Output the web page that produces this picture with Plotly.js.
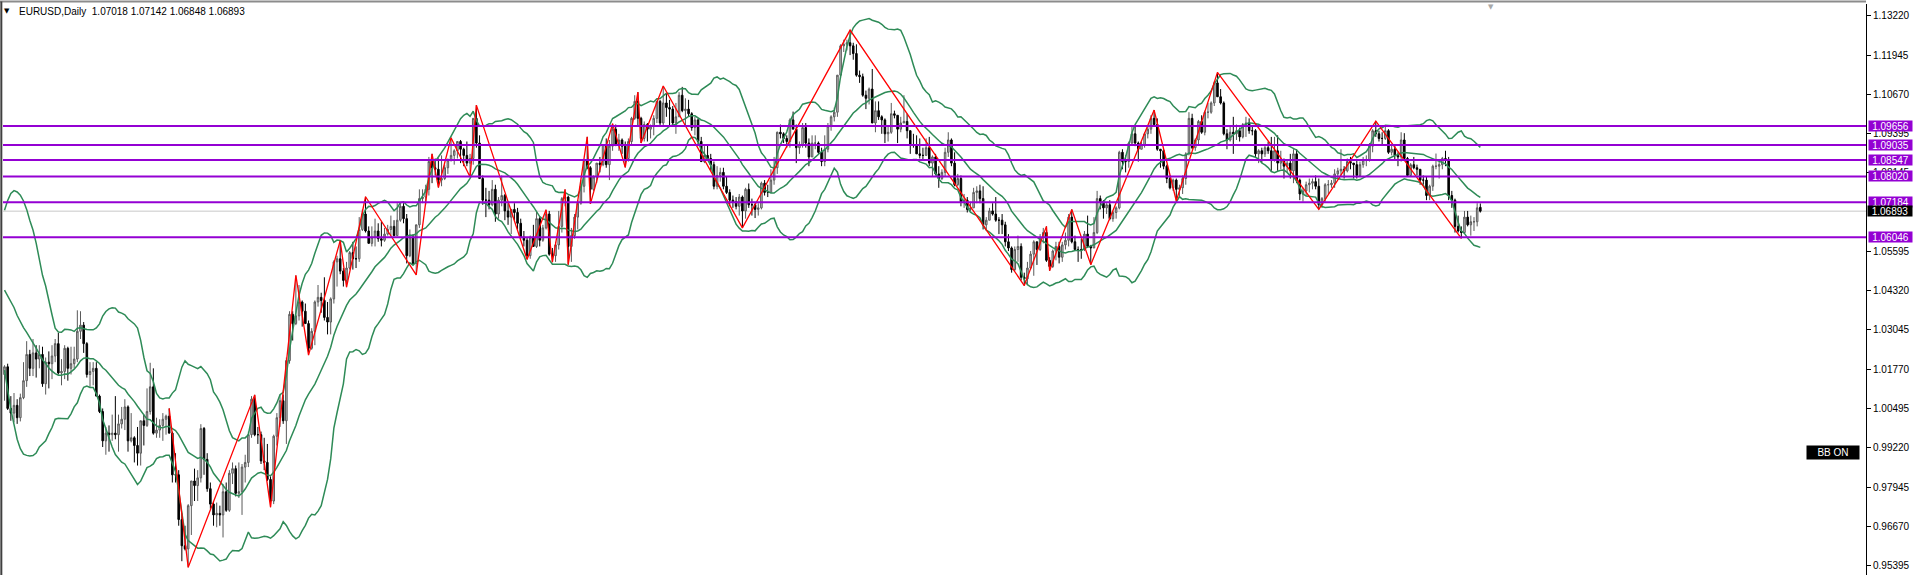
<!DOCTYPE html>
<html>
<head>
<meta charset="utf-8">
<script src="https://cdn.plot.ly/plotly-3.0.1.min.js"></script>
<style>html,body{margin:0;padding:0;background:#fff;}#chart{width:1917px;height:575px;}</style>
</head>
<body>
<div id="chart"></div>
<script>
// ---- EURUSD daily bars (Jul 2022 .. Apr 2024), one entry per bar ----
const opens = [
1.0160,1.0185,1.0050,1.0035,1.0060,1.0020,1.0085,1.0140,1.0225,1.0180,1.0230,1.0210,1.0225,1.0130,1.0200,1.0195,
1.0220,1.0260,1.0165,1.0170,1.0245,1.0180,1.0195,1.0210,1.0300,1.0320,1.0260,1.0160,1.0170,1.0180,1.0090,1.0040,0.9945,0.9970,0.9965,0.9970,0.9965,1.0000,1.0015,
1.0055,0.9945,0.9955,0.9930,0.9905,1.0010,0.9995,1.0040,1.0120,0.9970,0.9980,0.9995,1.0015,1.0025,0.9970,0.9835,0.9835,0.9690,0.9605,0.9595,0.9735,0.9815,
0.9800,0.9825,0.9985,0.9885,0.9790,0.9740,0.9705,0.9710,0.9705,0.9780,0.9720,0.9840,0.9855,0.9775,0.9780,0.9860,0.9875,0.9965,1.0080,0.9965,0.9965,
0.9880,0.9875,0.9820,0.9750,0.9960,1.0020,1.0075,1.0010,1.0205,1.0355,1.0325,1.0350,1.0395,1.0365,1.0325,1.0245,1.0300,1.0395,1.0410,1.0400,1.0345,1.0330,
1.0405,1.0525,1.0535,1.0495,1.0465,1.0505,1.0555,1.0535,1.0535,1.0630,1.0680,1.0625,1.0585,1.0605,1.0625,1.0600,1.0595,1.0615,1.0630,1.0640,1.0610,1.0660,
1.0705,1.0665,1.0545,1.0605,1.0520,1.0645,1.0730,1.0735,1.0760,1.0850,1.0830,1.0825,1.0790,1.0795,1.0830,1.0855,1.0870,1.0885,1.0915,1.0890,1.0870,1.0845,
1.0860,1.0990,1.0910,1.0795,1.0725,1.0725,1.0710,1.0760,1.0680,1.0725,1.0740,1.0690,1.0670,1.0695,1.0685,1.0650,1.0605,1.0595,1.0545,1.0605,
1.0575,1.0665,1.0595,1.0635,1.0680,1.0550,1.0545,1.0580,1.0640,1.0730,1.0735,1.0575,1.0610,1.0670,1.0715,1.0770,1.0855,1.0830,1.0760,1.0800,1.0845,1.0840,1.0905,
1.0840,1.0900,1.0955,1.0905,1.0920,1.0900,1.0860,1.0915,1.0990,1.1045,1.0990,1.0925,1.0970,1.0955,1.0965,1.0990,1.1045,1.0975,1.1040,1.1025,
1.1020,1.0975,1.0995,1.1065,1.1015,1.1020,1.1005,1.0960,1.0985,1.0915,1.0850,1.0870,1.0860,1.0840,1.0770,1.0805,1.0815,1.0770,1.0750,1.0725,1.0720,1.0705,1.0735,
1.0690,1.0760,1.0710,1.0710,1.0695,1.0700,1.0780,1.0750,1.0750,1.0790,1.0830,1.0945,1.0940,1.0925,1.0915,1.0985,1.0955,1.0895,1.0905,1.0960,1.0910,1.0865,
1.0910,1.0910,1.0880,1.0850,1.0890,1.0965,1.0995,1.1010,1.1130,1.1225,1.1230,1.1235,1.1225,1.1200,1.1130,1.1125,1.1065,1.1055,1.1085,1.0975,1.1015,
1.0995,1.0985,1.0940,1.0945,1.1005,1.1000,1.0955,1.0975,1.0980,1.0950,1.0905,1.0905,1.0875,1.0870,1.0870,1.0895,1.0845,1.0865,1.0810,1.0795,1.0815,1.0880,1.0920,
1.0845,1.0775,1.0795,1.0720,1.0725,1.0695,1.0700,1.0750,1.0755,1.0730,1.0645,1.0660,1.0690,1.0680,1.0660,1.0660,1.0645,1.0590,1.0570,1.0500,1.0565,
1.0575,1.0475,1.0470,1.0505,1.0550,1.0590,1.0565,1.0605,1.0620,1.0530,1.0510,1.0560,1.0575,1.0540,1.0580,1.0595,1.0670,1.0590,1.0565,1.0565,1.0565,1.0615,
1.0575,1.0570,1.0620,1.0730,1.0720,1.0700,1.0710,1.0665,1.0685,1.0700,1.0880,1.0850,1.0850,1.0910,1.0940,1.0910,1.0890,1.0905,1.0940,1.0955,1.0990,1.0970,
1.0890,1.0885,1.0835,1.0795,1.0765,1.0790,1.0760,1.0765,1.0795,1.0875,1.0990,1.0895,1.0920,1.0980,1.0945,1.1010,1.1010,1.1040,1.1105,1.1060,
1.1040,1.0940,1.0920,1.0945,1.0940,1.0950,1.0930,1.0970,1.0975,1.0950,1.0950,1.0875,1.0885,1.0875,1.0895,1.0885,1.0855,1.0885,1.0845,1.0855,1.0835,1.0845,
1.0820,1.0875,1.0790,1.0745,1.0755,1.0775,1.0780,1.0785,1.0770,1.0710,1.0730,1.0775,1.0775,1.0780,1.0810,1.0820,1.0825,1.0820,1.0850,1.0845,1.0840,
1.0805,1.0840,1.0855,1.0855,1.0900,1.0950,1.0940,1.0925,1.0925,1.0950,1.0880,1.0890,1.0870,1.0865,1.0920,1.0860,1.0805,1.0840,1.0830,1.0825,1.0790,
1.0790,1.0740,1.0770,1.0835,1.0835,1.0840,1.0860,1.0855,1.0740,1.0725,1.0640,1.0625,1.0620,1.0670,1.0645,1.0655,1.0655,1.07018
];
const highs = [
1.0190,1.0195,1.0090,1.0100,1.0080,1.0098,1.0200,1.0268,1.0240,1.0275,1.0255,1.0255,1.0250,1.0215,1.0235,1.0255,
1.0275,1.0295,1.0210,1.0255,1.0250,1.0250,1.0250,1.0368,1.0365,1.0330,1.0265,1.0200,1.0200,1.0200,1.0095,1.0050,0.9990,0.9995,1.0030,1.0090,1.0030,1.0055,1.0080,
1.0060,1.0035,0.9960,0.9990,1.0010,1.0030,1.0115,1.0198,1.0180,1.0020,1.0015,1.0035,1.0030,1.0050,0.9975,0.9905,0.9850,0.9710,0.9670,0.9740,0.9815,0.9855,
0.9850,0.9999,0.9990,0.9905,0.9810,0.9750,0.9745,0.9735,0.9805,0.9810,0.9850,0.9875,0.9865,0.9875,0.9870,0.9900,0.9975,1.0090,1.0094,0.9990,0.9975,
0.9955,0.9935,0.9830,0.9965,1.0035,1.0095,1.0095,1.0215,1.0365,1.0365,1.0481,1.0450,1.0400,1.0390,1.0335,1.0310,1.0400,1.0450,1.0425,1.0475,1.0395,1.0410,
1.0530,1.0545,1.0594,1.0505,1.0525,1.0560,1.0590,1.0575,1.0670,1.0695,1.0736,1.0640,1.0640,1.0665,1.0650,1.0655,1.0635,1.0645,1.0675,1.0660,1.0715,1.0715,
1.0715,1.0680,1.0630,1.0615,1.0645,1.0760,1.0760,1.0775,1.0865,1.0875,1.0860,1.0860,1.0870,1.0840,1.0860,1.0927,1.0890,1.0915,1.0920,1.0895,1.0915,1.0875,
1.0990,1.1033,1.0935,1.0805,1.0765,1.0755,1.0790,1.0775,1.0735,1.0805,1.0745,1.0715,1.0695,1.0715,1.0700,1.0665,1.0625,1.0605,1.0610,1.0645,
1.0690,1.0670,1.0645,1.0694,1.0690,1.0570,1.0590,1.0690,1.0735,1.0760,1.0740,1.0635,1.0680,1.0725,1.0790,1.0855,1.0930,1.0835,1.0805,1.0845,1.0865,1.0905,1.0925,
1.0920,1.0973,1.0970,1.0940,1.0925,1.0915,1.0925,1.0995,1.1065,1.1075,1.0995,1.0980,1.0975,1.0970,1.1000,1.1045,1.1050,1.1095,1.1070,1.1050,
1.1030,1.1040,1.1075,1.1092,1.1055,1.1050,1.1010,1.0995,1.0990,1.0930,1.0900,1.0905,1.0875,1.0850,1.0835,1.0830,1.0830,1.0800,1.0760,1.0740,1.0735,1.0745,1.0740,
1.0765,1.0779,1.0730,1.0715,1.0715,1.0785,1.0790,1.0775,1.0825,1.0865,1.0947,1.0970,1.0945,1.0935,1.0990,1.1012,1.0970,1.0915,1.0975,1.0975,1.0925,1.0935,
1.0935,1.0915,1.0895,1.0935,1.0975,1.1000,1.1025,1.1130,1.1230,1.1245,1.1245,1.1276,1.1235,1.1230,1.1145,1.1135,1.1080,1.1090,1.1150,1.1045,1.1045,
1.1000,1.0990,1.0965,1.1040,1.1015,1.1000,1.0995,1.1065,1.1005,1.0950,1.0940,1.0935,1.0925,1.0895,1.0925,1.0930,1.0870,1.0875,1.0835,1.0825,1.0895,1.0945,1.0925,
1.0880,1.0810,1.0805,1.0745,1.0735,1.0720,1.0765,1.0770,1.0775,1.0770,1.0670,1.0700,1.0715,1.0735,1.0670,1.0680,1.0655,1.0615,1.0575,1.0575,1.0610,
1.0585,1.0490,1.0525,1.0560,1.0595,1.0590,1.0615,1.0635,1.0640,1.0540,1.0565,1.0590,1.0590,1.0590,1.0620,1.0680,1.0695,1.0610,1.0575,1.0600,1.0625,1.0675,
1.0580,1.0670,1.0755,1.0740,1.0725,1.0715,1.0725,1.0690,1.0705,1.0885,1.0890,1.0870,1.0915,1.0965,1.0965,1.0915,1.0915,1.0945,1.0965,1.1000,1.1017,1.0990,
1.0890,1.0890,1.0840,1.0805,1.0795,1.0795,1.0775,1.0805,1.0880,1.1010,1.1005,1.0925,1.0985,1.1000,1.1015,1.1040,1.1045,1.1110,1.1139,1.1085,
1.1045,1.0955,1.0965,1.0995,1.0970,1.0960,1.0975,1.0995,1.0990,1.0965,1.0955,1.0890,1.0895,1.0905,1.0915,1.0930,1.0930,1.0935,1.0885,1.0860,1.0855,1.0875,
1.0890,1.0890,1.0795,1.0765,1.0785,1.0795,1.0795,1.0805,1.0795,1.0735,1.0780,1.0790,1.0790,1.0825,1.0830,1.0890,1.0835,1.0860,1.0865,1.0845,1.0855,
1.0850,1.0865,1.0870,1.0910,1.0955,1.0981,1.0950,1.0945,1.0965,1.0955,1.0905,1.0905,1.0880,1.0945,1.0942,1.0865,1.0845,1.0865,1.0840,1.0825,1.0805,
1.0800,1.0775,1.0840,1.0876,1.0850,1.0865,1.0885,1.0865,1.0755,1.0730,1.0675,1.0640,1.0690,1.0690,1.0675,1.0670,1.0715,1.07142
];
const lows = [
1.0075,1.0045,1.0010,1.0005,1.0000,1.0008,1.0080,1.0120,1.0155,1.0155,1.0150,1.0180,1.0120,1.0095,1.0115,1.0145,
1.0200,1.0160,1.0125,1.0145,1.0140,1.0160,1.0180,1.0200,1.0275,1.0230,1.0150,1.0120,1.0125,1.0090,1.0035,0.9925,0.9900,0.9910,0.9945,0.9950,0.9910,0.9985,0.9980,
0.9910,0.9940,0.9875,0.9865,0.9865,0.9930,0.9990,1.0030,0.9965,0.9955,0.9955,0.9945,0.9965,0.9970,0.9810,0.9810,0.9670,0.9555,0.9590,0.9535,0.9640,0.9750,
0.9750,0.9810,0.9835,0.9780,0.9725,0.9670,0.9665,0.9670,0.9632,0.9715,0.9715,0.9805,0.9765,0.9760,0.9705,0.9810,0.9860,0.9955,0.9960,0.9935,0.9870,
0.9850,0.9815,0.9730,0.9740,0.9930,0.9990,1.0000,0.9935,1.0195,1.0270,1.0320,1.0335,1.0315,1.0335,1.0223,1.0240,1.0255,1.0380,1.0360,1.0335,1.0290,1.0290,
1.0390,1.0445,1.0485,1.0445,1.0443,1.0500,1.0500,1.0505,1.0525,1.0625,1.0620,1.0585,1.0575,1.0575,1.0590,1.0575,1.0590,1.0610,1.0610,1.0610,1.0610,1.0655,
1.0650,1.0520,1.0540,1.0515,1.0483,1.0635,1.0715,1.0710,1.0740,1.0780,1.0805,1.0766,1.0770,1.0790,1.0810,1.0850,1.0840,1.0860,1.0845,1.0835,1.0835,1.0800,
1.0840,1.0895,1.0795,1.0710,1.0670,1.0695,1.0705,1.0655,1.0665,1.0705,1.0660,1.0645,1.0615,1.0660,1.0630,1.0600,1.0575,1.0533,1.0535,1.0575,
1.0570,1.0575,1.0590,1.0630,1.0545,1.0524,1.0525,1.0565,1.0620,1.0705,1.0516,1.0525,1.0600,1.0630,1.0710,1.0750,1.0825,1.0713,1.0755,1.0780,1.0815,1.0835,1.0830,
1.0790,1.0885,1.0900,1.0885,1.0875,1.0831,1.0850,1.0905,1.0985,1.0965,1.0910,1.0915,1.0915,1.0925,1.0935,1.0975,1.0965,1.0965,1.0995,1.0965,
1.0965,1.0940,1.0995,1.1010,1.0965,1.0995,1.0950,1.0935,1.0900,1.0850,1.0845,1.0855,1.0820,1.0760,1.0760,1.0785,1.0760,1.0745,1.0705,1.0700,1.0695,1.0675,1.0635,
1.0665,1.0700,1.0675,1.0667,1.0675,1.0695,1.0740,1.0735,1.0750,1.0775,1.0810,1.0925,1.0910,1.0895,1.0895,1.0955,1.0845,1.0875,1.0895,1.0895,1.0835,1.0865,
1.0890,1.0875,1.0835,1.0835,1.0880,1.0950,1.0980,1.0995,1.1120,1.1205,1.1210,1.1195,1.1180,1.1125,1.1105,1.1060,1.1020,1.1035,1.0975,1.0945,1.0985,
1.0940,1.0910,1.0915,1.0940,1.0990,1.0910,1.0945,1.0975,1.0925,1.0875,1.0895,1.0875,1.0860,1.0855,1.0870,1.0835,1.0802,1.0805,1.0765,1.0790,1.0800,1.0865,1.0835,
1.0770,1.0770,1.0705,1.0700,1.0685,1.0690,1.0700,1.0715,1.0715,1.0630,1.0630,1.0660,1.0675,1.0655,1.0615,1.0615,1.0575,1.0560,1.0490,1.0495,1.0525,
1.0465,1.0448,1.0450,1.0500,1.0480,1.0515,1.0560,1.0585,1.0525,1.0496,1.0505,1.0530,1.0520,1.0525,1.0565,1.0575,1.0585,1.0560,1.0525,1.0535,1.0560,1.0570,
1.0516,1.0570,1.0615,1.0695,1.0665,1.0680,1.0660,1.0655,1.0665,1.0695,1.0825,1.0815,1.0830,1.0905,1.0900,1.0850,1.0890,1.0895,1.0925,1.0940,1.0965,1.0885,
1.0830,1.0825,1.0780,1.0760,1.0755,1.0723,1.0735,1.0745,1.0775,1.0870,1.0890,1.0885,1.0905,1.0940,1.0935,1.0990,1.1005,1.1030,1.1060,1.1035,
1.0935,1.0890,1.0915,1.0875,1.0920,1.0915,1.0925,1.0930,1.0940,1.0935,1.0865,1.0845,1.0845,1.0865,1.0875,1.0820,1.0850,1.0820,1.0825,1.0795,1.0815,1.0795,
1.0780,1.0780,1.0725,1.0720,1.0740,1.0750,1.0760,1.0760,1.0695,1.0700,1.0720,1.0745,1.0765,1.0765,1.0795,1.0805,1.0795,1.0815,1.0825,1.0795,1.0795,
1.0800,1.0830,1.0835,1.0850,1.0880,1.0930,1.0915,1.0905,1.0920,1.0875,1.0870,1.0855,1.0835,1.0850,1.0855,1.0800,1.0800,1.0825,1.0805,1.0775,1.0775,
1.0725,1.0725,1.0755,1.0825,1.0795,1.0825,1.0835,1.0725,1.0700,1.0620,1.0620,1.0601,1.0615,1.0640,1.0610,1.0625,1.0640,1.06848
];
const closes = [
1.0185,1.0050,1.0035,1.0060,1.0020,1.0085,1.0140,1.0225,1.0180,1.0230,1.0210,1.0225,1.0130,1.0200,1.0195,1.0220,
1.0260,1.0165,1.0170,1.0245,1.0180,1.0195,1.0210,1.0300,1.0320,1.0260,1.0160,1.0170,1.0180,1.0090,1.0040,0.9945,0.9970,0.9965,0.9970,0.9965,1.0000,1.0015,1.0055,
0.9945,0.9955,0.9930,0.9905,1.0010,0.9995,1.0040,1.0120,0.9970,0.9980,0.9995,1.0015,1.0025,0.9970,0.9835,0.9835,0.9690,0.9605,0.9595,0.9735,0.9815,0.9800,
0.9825,0.9985,0.9885,0.9790,0.9740,0.9705,0.9710,0.9705,0.9780,0.9720,0.9840,0.9855,0.9775,0.9780,0.9860,0.9875,0.9965,1.0080,0.9965,0.9965,0.9880,
0.9875,0.9820,0.9750,0.9960,1.0020,1.0075,1.0010,1.0205,1.0355,1.0325,1.0350,1.0395,1.0365,1.0325,1.0245,1.0300,1.0395,1.0410,1.0400,1.0345,1.0330,1.0405,
1.0525,1.0535,1.0495,1.0465,1.0505,1.0555,1.0535,1.0535,1.0630,1.0680,1.0625,1.0585,1.0605,1.0625,1.0600,1.0595,1.0615,1.0630,1.0640,1.0610,1.0660,1.0705,
1.0665,1.0545,1.0605,1.0520,1.0645,1.0730,1.0735,1.0760,1.0850,1.0830,1.0825,1.0790,1.0795,1.0830,1.0855,1.0870,1.0885,1.0915,1.0890,1.0870,1.0845,1.0860,
1.0990,1.0910,1.0795,1.0725,1.0725,1.0710,1.0760,1.0680,1.0725,1.0740,1.0690,1.0670,1.0695,1.0685,1.0650,1.0605,1.0595,1.0545,1.0605,1.0575,
1.0665,1.0595,1.0635,1.0680,1.0550,1.0545,1.0580,1.0640,1.0730,1.0735,1.0575,1.0610,1.0670,1.0715,1.0770,1.0855,1.0830,1.0760,1.0800,1.0845,1.0840,1.0905,1.0840,
1.0900,1.0955,1.0905,1.0920,1.0900,1.0860,1.0915,1.0990,1.1045,1.0990,1.0925,1.0970,1.0955,1.0965,1.0990,1.1045,1.0975,1.1040,1.1025,1.1020,
1.0975,1.0995,1.1065,1.1015,1.1020,1.1005,1.0960,1.0985,1.0915,1.0850,1.0870,1.0860,1.0840,1.0770,1.0805,1.0815,1.0770,1.0750,1.0725,1.0720,1.0705,1.0735,1.0690,
1.0760,1.0710,1.0710,1.0695,1.0700,1.0780,1.0750,1.0750,1.0790,1.0830,1.0945,1.0940,1.0925,1.0915,1.0985,1.0955,1.0895,1.0905,1.0960,1.0910,1.0865,1.0910,
1.0910,1.0880,1.0850,1.0890,1.0965,1.0995,1.1010,1.1130,1.1225,1.1230,1.1235,1.1225,1.1200,1.1130,1.1125,1.1065,1.1055,1.1085,1.0975,1.1015,1.0995,
1.0985,1.0940,1.0945,1.1005,1.1000,1.0955,1.0975,1.0980,1.0950,1.0905,1.0905,1.0875,1.0870,1.0870,1.0895,1.0845,1.0865,1.0810,1.0795,1.0815,1.0880,1.0920,1.0845,
1.0775,1.0795,1.0720,1.0725,1.0695,1.0700,1.0750,1.0755,1.0730,1.0645,1.0660,1.0690,1.0680,1.0660,1.0660,1.0645,1.0590,1.0570,1.0500,1.0565,1.0575,
1.0475,1.0470,1.0505,1.0550,1.0590,1.0565,1.0605,1.0620,1.0530,1.0510,1.0560,1.0575,1.0540,1.0580,1.0595,1.0670,1.0590,1.0565,1.0565,1.0565,1.0615,1.0575,
1.0570,1.0620,1.0730,1.0720,1.0700,1.0710,1.0665,1.0685,1.0700,1.0880,1.0850,1.0850,1.0910,1.0940,1.0910,1.0890,1.0905,1.0940,1.0955,1.0990,1.0970,1.0890,
1.0885,1.0835,1.0795,1.0765,1.0790,1.0760,1.0765,1.0795,1.0875,1.0990,1.0895,1.0920,1.0980,1.0945,1.1010,1.1010,1.1040,1.1105,1.1060,1.1040,
1.0940,1.0920,1.0945,1.0940,1.0950,1.0930,1.0970,1.0975,1.0950,1.0950,1.0875,1.0885,1.0875,1.0895,1.0885,1.0855,1.0885,1.0845,1.0855,1.0835,1.0845,1.0820,
1.0875,1.0790,1.0745,1.0755,1.0775,1.0780,1.0785,1.0770,1.0710,1.0730,1.0775,1.0775,1.0780,1.0810,1.0820,1.0825,1.0820,1.0850,1.0845,1.0840,1.0805,
1.0840,1.0855,1.0855,1.0900,1.0950,1.0940,1.0925,1.0925,1.0950,1.0880,1.0890,1.0870,1.0865,1.0920,1.0860,1.0805,1.0840,1.0830,1.0825,1.0790,1.0790,
1.0740,1.0770,1.0835,1.0835,1.0840,1.0860,1.0855,1.0740,1.0725,1.0640,1.0625,1.0620,1.0670,1.0645,1.0655,1.0655,1.0700,1.06893
];
// closes of the 19 sessions before the first visible bar (needed for the 20-period bands)
const priorCloses = [1.0410,1.0415,1.0445,1.0545,1.0495,1.0510,1.0535,1.0565,1.0520,1.0555,1.0585,1.0520,1.0445,1.0485,1.0425,1.0425,1.0265,1.0180,1.0160];

// ZigZag pivots: bar index and price
const zigzagIdx   = [52,58,79,84,92,96,106,108,114,130,135,137,141,147,149,165,171,173,177,178,184,185,192,196,200,201,208,233,267,322,329,330,337,343,363,370,383,415,433,460];
const zigzagPrice = [1.0050,0.9535,1.0094,0.9730,1.0481,1.0223,1.0594,1.0443,1.0736,1.0483,1.0875,1.0766,1.0927,1.0800,1.1033,1.0533,1.0694,1.0524,1.0760,1.0516,1.0930,1.0713,1.0973,1.0831,1.1075,1.0910,1.1095,1.0635,1.1276,1.0448,1.0640,1.0496,1.0695,1.0516,1.1017,1.0723,1.1139,1.0695,1.0981,1.0601];

// horizontal levels
const levelPrices = [1.09656,1.09035,1.08547,1.08020,1.07184,1.06046];
const bidPrice = 1.06893;

// price scale labels
const tickValues = [1.13220,1.11945,1.10670,1.09395,1.08145,1.05595,1.04320,1.03045,1.01770,1.00495,0.99220,0.97945,0.96670,0.95395];
const tickLabels = ["1.13220","1.11945","1.10670","1.09395","1.08145","1.05595","1.04320","1.03045","1.01770","1.00495","0.99220","0.97945","0.96670","0.95395"];

const symbolTitle = "EURUSD,Daily";
const lastOHLC = ["1.07018","1.07142","1.06848","1.06893"];

// ---- build ----
const N = closes.length;
const xs = Array.from({length:N}, (_, i) => i);

const period = 20, dev = 2;
const allCloses = priorCloses.concat(closes);
const bbMid = [], bbUp = [], bbLo = [];
for (let i = 0; i < N; i++) {
  const w = allCloses.slice(i, i + period);
  const m = w.reduce((a, b) => a + b, 0) / period;
  const sd = Math.sqrt(w.reduce((a, b) => a + (b - m) * (b - m), 0) / period);
  bbMid.push(m); bbUp.push(m + dev * sd); bbLo.push(m - dev * sd);
}

const FONT = 'Liberation Sans, Arial, sans-serif';
const bbStyle = {color:'#2E8B57', width:1.5};

const traces = [
  {type:'candlestick', x:xs, open:opens, high:highs, low:lows, close:closes,
   increasing:{line:{color:'#5a5a5a', width:1}, fillcolor:'#c4c4c4'},
   decreasing:{line:{color:'#000000', width:1}, fillcolor:'#000000'},
   whiskerwidth:0, hoverinfo:'skip', showlegend:false},
  {type:'scatter', mode:'lines', x:xs, y:bbUp, line:bbStyle, hoverinfo:'skip'},
  {type:'scatter', mode:'lines', x:xs, y:bbMid, line:bbStyle, hoverinfo:'skip'},
  {type:'scatter', mode:'lines', x:xs, y:bbLo, line:bbStyle, hoverinfo:'skip'},
  {type:'scatter', mode:'lines', x:zigzagIdx, y:zigzagPrice, line:{color:'#FF0000', width:1.3}, hoverinfo:'skip'}
];

const shapes = [];
shapes.push({type:'line', xref:'paper', yref:'y', x0:0, x1:1, y0:bidPrice, y1:bidPrice, layer:'below', line:{color:'#C8C8C8', width:1}});
levelPrices.forEach(p => shapes.push({type:'line', xref:'paper', yref:'y', x0:0, x1:1, y0:p, y1:p, line:{color:'#9400D3', width:2}}));
// window frame: top grey edge, left dark edge
shapes.push({type:'line', xref:'paper', yref:'paper', x0:-0.0017, x1:1, y0:1.0045, y1:1.0045, line:{color:'#8c8c8c', width:2}});
shapes.push({type:'line', xref:'paper', yref:'paper', x0:-0.0009, x1:-0.0009, y0:0, y1:1.0045, line:{color:'#404040', width:2}});

const annotations = [];
levelPrices.forEach(p => annotations.push({
  xref:'paper', yref:'y', x:1, y:p, xanchor:'left', yanchor:'middle', xshift:2,
  text:p.toFixed(5), showarrow:false, bgcolor:'#9400D3', borderpad:0, width:43, height:10, align:'center',
  font:{family:FONT, size:10, color:'#ffffff'}
}));
annotations.push({
  xref:'paper', yref:'y', x:1, y:bidPrice, xanchor:'left', yanchor:'middle', xshift:1,
  text:bidPrice.toFixed(5), showarrow:false, bgcolor:'#000000', borderpad:0, width:44, height:10, align:'center',
  font:{family:FONT, size:10, color:'#ffffff'}
});
annotations.push({
  xref:'paper', yref:'paper', x:0.0021, y:0.9877, xanchor:'center', yanchor:'middle',
  text:'\u25BC', showarrow:false, font:{family:'DejaVu Sans, sans-serif', size:7, color:'#000'}
});
annotations.push({
  xref:'paper', yref:'paper', x:0.0075, y:0.9877, xanchor:'left', yanchor:'middle',
  text: symbolTitle + '\u00A0\u00A0' + lastOHLC.join(' '), showarrow:false,
  font:{family:FONT, size:10, color:'#000'}
});
annotations.push({
  xref:'paper', yref:'paper', x:0.9823, y:0.2137, xanchor:'center', yanchor:'middle',
  text:'BB ON', showarrow:false, bgcolor:'#000000', borderpad:0, width:52, height:13,
  font:{family:FONT, size:10, color:'#ffffff'}
});
annotations.push({
  xref:'paper', yref:'paper', x:0.7987, y:1.006, xanchor:'center', yanchor:'top',
  text:'\u25BC', showarrow:false, font:{family:'DejaVu Sans, sans-serif', size:7, color:'#a8a8a8'}
});

const layout = {
  width:1917, height:575,
  margin:{l:3, r:51, t:4, b:0, pad:0},
  paper_bgcolor:'#ffffff', plot_bgcolor:'#ffffff',
  showlegend:false, dragmode:false,
  xaxis:{range:[-0.474, 587.78], visible:false, showgrid:false, zeroline:false, rangeslider:{visible:false}, fixedrange:true},
  yaxis:{range:[0.95103, 1.13606], side:'right', tickmode:'array', tickvals:tickValues, ticktext:tickLabels,
         ticks:'outside', ticklen:4, tickcolor:'#000', tickwidth:1, showline:true, linecolor:'#000', linewidth:1,
         showgrid:false, zeroline:false, fixedrange:true,
         tickfont:{family:FONT, size:10, color:'#000'}},
  shapes:shapes, annotations:annotations
};

Plotly.newPlot('chart', traces, layout, {displayModeBar:false, staticPlot:true});
</script>
</body>
</html>
